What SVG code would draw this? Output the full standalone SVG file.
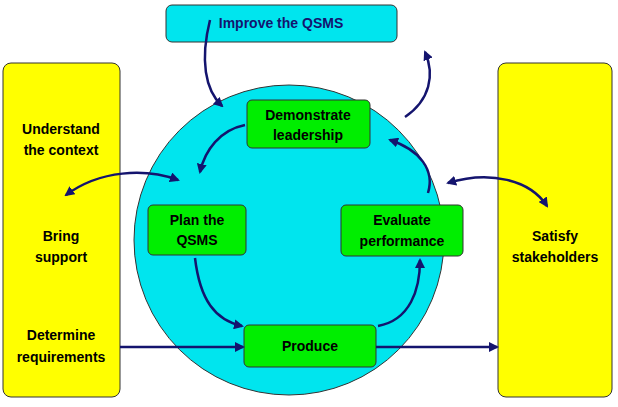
<svg xmlns="http://www.w3.org/2000/svg" width="618" height="407" viewBox="0 0 618 407">
<style>
.y{fill:#ffff00;stroke:#333;stroke-width:1}
.g{fill:#00ee00;stroke:#333;stroke-width:1}
.t{font-family:"Liberation Sans",Arial,sans-serif;font-weight:bold;font-size:14px;text-anchor:middle;fill:#000}
.c path{fill:none;stroke:#14146e;stroke-width:2.5}
</style>
<defs><marker id="a" markerWidth="10" markerHeight="10" refX="8" refY="5" orient="auto-start-reverse" markerUnits="userSpaceOnUse"><path d="M0,0 L10,5 L0,10 z" fill="#14146e"/></marker></defs>
<rect width="618" height="407" fill="#fff"/>
<g id="left"><rect class="y" x="3" y="63" width="117" height="334" rx="8"/>
<text class="t" x="61" y="134">Understand</text><text class="t" x="61" y="155">the context</text>
<text class="t" x="61" y="241">Bring</text><text class="t" x="61" y="262">support</text>
<text class="t" x="61" y="340">Determine</text><text class="t" x="61" y="362">requirements</text></g>
<g id="right"><rect class="y" x="498" y="63" width="114" height="334" rx="8"/>
<text class="t" x="555" y="241">Satisfy</text><text class="t" x="555" y="262">stakeholders</text></g>
<g id="circle"><circle cx="289" cy="240" r="155" fill="#00e5ee" stroke="#333"/></g>
<g id="improve"><rect x="166" y="5" width="231" height="37" rx="6" fill="#00e5ee" stroke="#333"/>
<text class="t" x="281" y="28" fill="#14146e" style="fill:#14146e">Improve the QSMS</text></g>
<g id="lead"><rect class="g" x="247" y="100" width="123" height="48" rx="5"/><text class="t" x="308" y="120">Demonstrate</text><text class="t" x="308" y="140">leadership</text></g>
<g id="plan"><rect class="g" x="148" y="205" width="98" height="50" rx="5"/><text class="t" x="197" y="225">Plan the</text><text class="t" x="197" y="245">QSMS</text></g>
<g id="eval"><rect class="g" x="341" y="205" width="122" height="51" rx="5"/><text class="t" x="402" y="225">Evaluate</text><text class="t" x="402" y="246">performance</text></g>
<g id="produce"><rect class="g" x="244" y="325" width="132" height="42" rx="5"/><text class="t" x="310" y="351">Produce</text></g>
<g class="c" id="connectors">
<path d="M210,20 C200,60 205,90 222,106" marker-end="url(#a)"/>
<path d="M405,117 C430,100 435,75 425,52" marker-end="url(#a)"/>
<path d="M245,125 C220,130 205,150 200,172" marker-end="url(#a)"/>
<path d="M66,195 C100,170 145,168 178,180" marker-start="url(#a)" marker-end="url(#a)"/>
<path d="M195,258 C200,300 215,320 242,326" marker-end="url(#a)"/>
<path d="M378,326 C410,320 420,290 420,260" marker-end="url(#a)"/>
<path d="M428,193 C435,170 420,150 390,140" marker-end="url(#a)"/>
<path d="M448,183 C490,170 530,180 547,206" marker-start="url(#a)" marker-end="url(#a)"/>
<path d="M120,347 L243,347" marker-end="url(#a)"/>
<path d="M376,347 L497,347" marker-end="url(#a)"/>
</g>
</svg>
